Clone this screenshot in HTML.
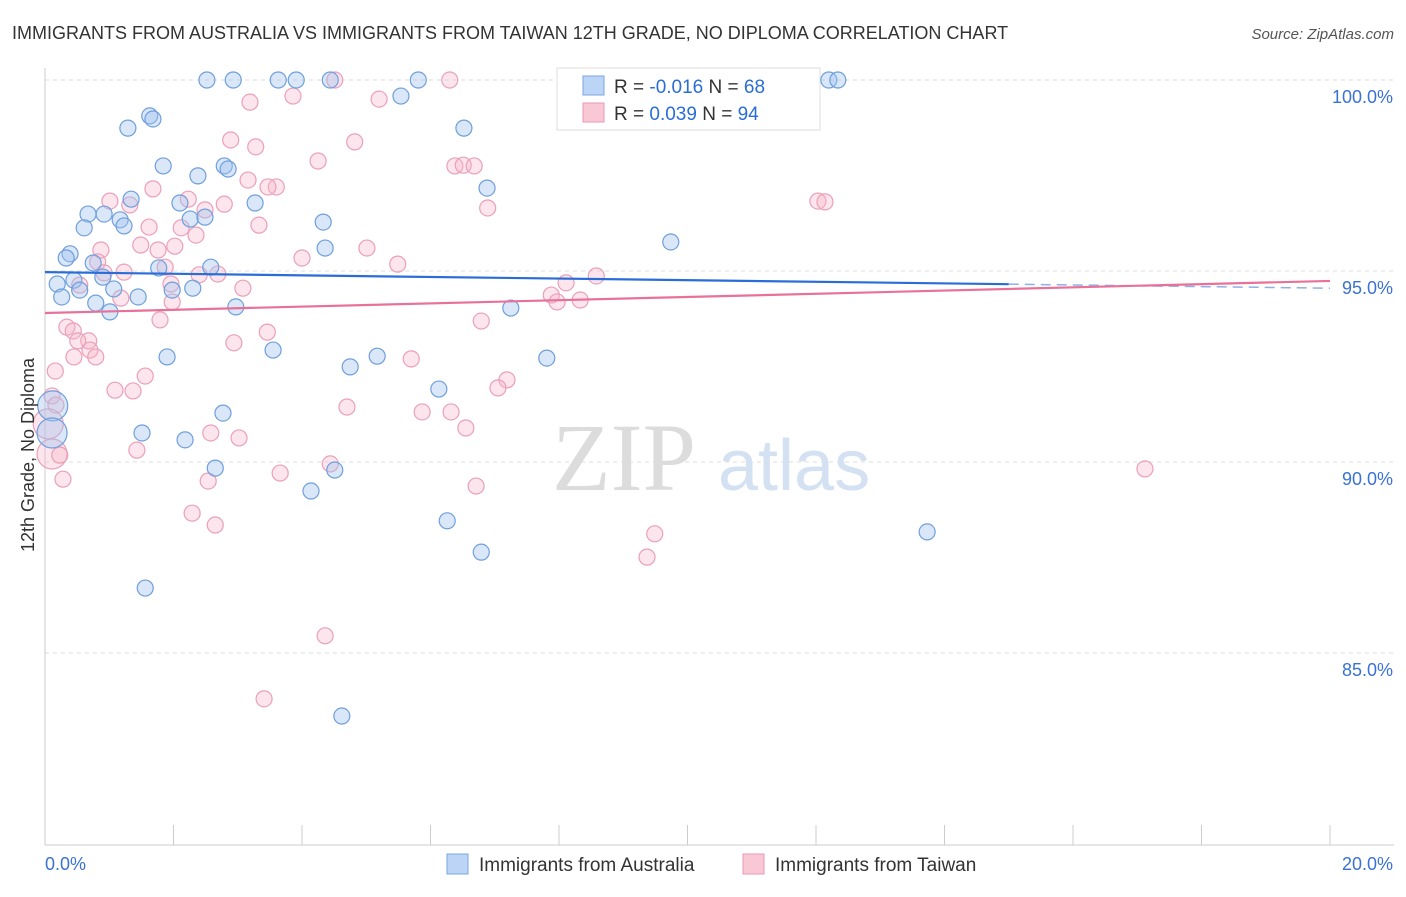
<!DOCTYPE html>
<html><head><meta charset="utf-8"><style>
body{margin:0;background:#fff;font-family:"Liberation Sans",sans-serif;}
svg text{font-family:"Liberation Sans",sans-serif;}
</style></head><body>
<svg width="1406" height="892" viewBox="0 0 1406 892" id="chart">
<text x="12" y="39" font-size="18" fill="#333">IMMIGRANTS FROM AUSTRALIA VS IMMIGRANTS FROM TAIWAN 12TH GRADE, NO DIPLOMA CORRELATION CHART</text>
<text x="1394" y="39" font-size="15" fill="#555" font-style="italic" text-anchor="end">Source: ZipAtlas.com</text>
<g id="grid"></g>
<g>
<text x="552" y="490" font-size="96" fill="#dcdcdc" font-family="Liberation Serif" style="font-family:'Liberation Serif',serif">ZIP</text>
<text x="718" y="490" font-size="72" fill="#d3e1f3">atlas</text>
</g>
<g id="axes"></g>
<g id="pts-pink"></g>
<g id="pts-blue"></g>
<g id="trends"></g>
<text transform="translate(34,455) rotate(-90)" font-size="18" fill="#333" text-anchor="middle">12th Grade, No Diploma</text>
<g>
<rect x="557" y="68" width="263" height="62" fill="#fff" stroke="#ddd"/>
<rect x="583" y="76" width="21" height="19" fill="#bcd4f5" stroke="#7aa6e0"/>
<rect x="583" y="103" width="21" height="19" fill="#f9c8d6" stroke="#e89ab3"/>
<text x="614" y="93" font-size="19" fill="#333">R = <tspan fill="#2a6dd8">-0.016</tspan>   N = <tspan fill="#2a6dd8">68</tspan></text>
<text x="614" y="120" font-size="19" fill="#333">R = <tspan fill="#2a6dd8"> 0.039</tspan>   N = <tspan fill="#2a6dd8">94</tspan></text>
</g>
<g>
<rect x="447" y="854" width="21" height="20" fill="#bcd4f5" stroke="#7aa6e0"/>
<text x="479" y="871" font-size="19" fill="#333">Immigrants from Australia</text>
<rect x="743" y="854" width="21" height="20" fill="#f9c8d6" stroke="#e89ab3"/>
<text x="775" y="871" font-size="19" fill="#333">Immigrants from Taiwan</text>
</g>
</svg>
<script>
const yTicks=[100,95,90,85];
const yTickLabels=["100.0%","95.0%","90.0%","85.0%"];
const xTickLabels=["0.0%","20.0%"];
const blueX=[2.52,2.93,3.63,3.91,4.44,5.81,12.20,12.34,5.54,1.29,1.63,1.68,6.52,1.84,2.79,2.85,2.38,6.88,1.34,2.10,3.27,0.67,0.92,1.17,1.23,2.26,2.49,4.33,0.61,0.39,0.33,4.36,9.74,0.75,1.77,2.58,0.19,0.45,0.90,0.54,0.26,1.07,1.45,2.30,1.98,0.79,1.01,2.97,7.25,3.55,1.90,5.17,7.81,4.75,6.13,0.12,2.77,1.51,2.18,0.11,2.65,4.51,4.14,6.26,6.79,13.73,1.56,4.62];
const blueY=[100,100,100,100,100,100,100,100,99.58,98.74,99.06,98.98,98.74,97.75,97.75,97.67,97.49,97.17,96.88,96.78,96.78,96.49,96.49,96.34,96.18,96.36,96.41,96.28,96.13,95.45,95.34,95.60,95.76,95.21,95.08,95.10,94.66,94.76,94.84,94.50,94.32,94.53,94.32,94.55,94.50,94.16,93.93,94.06,94.03,92.93,92.75,92.77,92.72,92.49,91.91,91.47,91.28,90.76,90.58,90.76,89.84,89.79,89.24,88.46,87.64,88.17,86.70,83.35];
const blueBig=[55,59];
const pinkX=[4.51,6.30,11.75,3.19,3.86,5.20,2.89,3.28,4.82,4.25,6.38,6.51,6.68,3.16,1.68,3.60,3.47,6.89,1.01,1.32,2.23,2.79,2.49,12.03,12.14,1.62,2.12,2.35,3.33,1.49,0.87,1.76,2.02,5.01,5.49,4.00,0.82,1.23,1.87,2.69,8.58,0.92,2.40,1.96,3.08,8.11,0.54,1.18,1.98,7.88,7.97,8.33,1.79,6.79,0.34,0.44,3.46,0.68,0.51,0.70,2.94,0.45,0.79,0.16,1.56,5.70,7.19,7.05,1.09,1.37,0.11,0.17,4.70,5.87,6.32,6.55,2.58,3.02,1.43,0.11,0.23,4.44,17.12,3.66,2.54,0.28,6.71,2.29,2.65,9.49,9.37,4.36,3.41,0.05];
const pinkY=[100,100,100,99.42,99.58,99.50,98.43,98.25,98.38,97.88,97.75,97.77,97.75,97.38,97.15,97.20,97.20,96.65,96.83,96.73,96.88,96.75,96.60,96.83,96.81,96.15,96.13,95.94,96.20,95.68,95.55,95.55,95.65,95.60,95.18,95.34,95.24,94.97,95.10,94.92,94.87,94.95,94.90,94.66,94.55,94.69,94.63,94.29,94.19,94.37,94.19,94.24,93.72,93.69,93.53,93.43,93.40,93.17,93.17,92.93,93.12,92.75,92.75,92.38,92.25,92.70,92.15,91.94,91.88,91.86,91.73,91.49,91.44,91.31,91.31,90.89,90.76,90.63,90.31,90.21,90.18,89.95,89.82,89.71,89.50,89.55,89.37,88.66,88.35,88.12,87.51,85.45,83.80,91.0];
const pinkBig=[79,93];
const blueTrend=[94.97,94.55];
const pinkTrend=[93.90,94.74];

const NS="http://www.w3.org/2000/svg";
const X0=45,X1=1330,Y100=80,PPU=38.2;
const sx=v=>X0+(X1-X0)*v/20;
const sy=v=>Y100+(100-v)*PPU;
function mk(tag,attrs,parent){const e=document.createElementNS(NS,tag);for(const k in attrs)e.setAttribute(k,attrs[k]);parent.appendChild(e);return e;}
const grid=document.getElementById('grid'),axes=document.getElementById('axes');
yTicks.forEach((t,i)=>{
 const l=mk('line',{x1:X0,x2:1394,y1:sy(t),y2:sy(t),stroke:'#ddd','stroke-dasharray':'4,4'},grid);
 
 
 const tx=mk('text',{x:1393,y:sy(t)+23,'font-size':18,fill:'#3a72d4','text-anchor':'end'},axes);
 tx.textContent=yTickLabels[i];
 
 
});
const ax=mk('line',{x1:X0,x2:X0,y1:68,y2:845,stroke:'#ccc'},axes);


const bx=mk('line',{x1:X0,x2:1394,y1:845,y2:845,stroke:'#ccc'},axes);


for(let i=0;i<=10;i++){
 const t=mk('line',{x1:sx(i*2),x2:sx(i*2),y1:825,y2:845,stroke:'#ccc'},axes);
 
 
}
[[0,'start',45],[1,'end',1393]].forEach(([i,a,x])=>{
 const t=mk('text',{x:x,y:870,'font-size':18,fill:'#3a72d4','text-anchor':a},axes);
 t.textContent=xTickLabels[i];
 
 
});
function pts(xs,ys,big,g,fill,stroke,name){
 xs.forEach((x,i)=>{
  const r=big.includes(i)?15:8;
  const c=mk('circle',{cx:sx(x),cy:sy(ys[i]),r:r,fill:fill,stroke:stroke,'stroke-width':1.2},g);
  
  
 });
}
pts(pinkX,pinkY,pinkBig,document.getElementById('pts-pink'),'rgba(246,180,200,0.35)','#eaa0b8','taiwan-point');
pts(blueX,blueY,blueBig,document.getElementById('pts-blue'),'rgba(160,195,240,0.4)','#6f9fdc','australia-point');
const tr=document.getElementById('trends');
const by=v=>blueTrend[0]+(blueTrend[1]-blueTrend[0])*v/20;
const b1=mk('line',{x1:sx(0),y1:sy(by(0)),x2:sx(15),y2:sy(by(15)),stroke:'#2a6dd8','stroke-width':2.2},tr);


const b2=mk('line',{x1:sx(15),y1:sy(by(15)),x2:sx(20),y2:sy(by(20)),stroke:'#8fb0e6','stroke-width':1.5,'stroke-dasharray':'10,6'},tr);


const p1=mk('line',{x1:sx(0),y1:sy(pinkTrend[0]),x2:sx(20),y2:sy(pinkTrend[1]),stroke:'#e8719a','stroke-width':2.2},tr);


</script>
</body></html>
